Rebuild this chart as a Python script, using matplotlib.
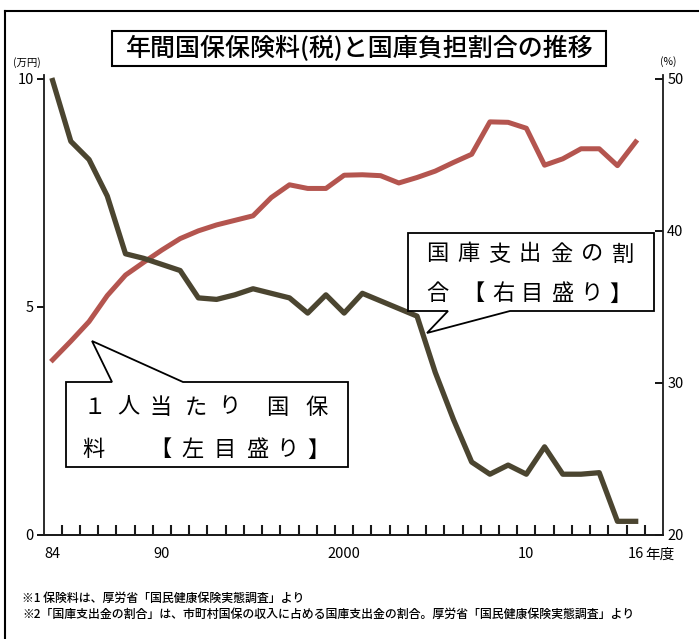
import matplotlib
matplotlib.use("Agg")
import matplotlib.pyplot as plt
from matplotlib.patches import Polygon, Rectangle
from matplotlib.lines import Line2D

plt.rcParams['font.family'] = ['Noto Sans CJK JP', 'DejaVu Sans']

# data
years = list(range(1984, 2017))
premium = [3.84, 4.25, 4.68, 5.25, 5.7, 5.98, 6.25, 6.5, 6.67, 6.8, 6.9, 7.0, 7.4,
           7.68, 7.6, 7.6, 7.89, 7.9, 7.88, 7.72, 7.84, 7.98, 8.17, 8.35, 9.06,
           9.05, 8.92, 8.11, 8.25, 8.47, 8.47, 8.1, 8.62]          # 万円, left axis
share = [49.9, 45.9, 44.7, 42.3, 38.5, 38.2, 37.8, 37.4, 35.6, 35.5, 35.8, 36.2,
         35.9, 35.6, 34.6, 35.8, 34.6, 35.9, 35.4, 34.9, 34.4, 30.7, 27.6, 24.8,
         24.0, 24.6, 24.0, 25.8, 24.0, 24.0, 24.1, 20.9, 20.9]    # %, right axis
xtick_pos = [1984, 1990, 2000, 2010, 2016]
xtick_lab = ["84", "90", "2000", "10", "16"]
left_ticks = [0, 5, 10]
right_ticks = [20, 30, 40, 50]

W, H = 699, 639
fig = plt.figure(figsize=(W / 100, H / 100), dpi=100)
fig.patch.set_facecolor('white')


def px(x, y):
    return (x / W, 1 - y / H)


# plot area in pixels
L, R, T, B = 43.5, 663, 75, 535
ax = fig.add_axes([L / W, 1 - B / H, (R - L) / W, (B - T) / H])
ax2 = ax.twinx()

red = '#b4554f'
dark = '#4b4530'
ax.plot(years, premium, color=red, lw=3.6, zorder=3)
ax2.plot(years, share, color=dark, lw=3.8, zorder=3)

ax.set_xlim(1983.5, 2017.5)
ax.set_ylim(0, 10 + 4 / 45.6)
ax2.set_ylim(20, 50 + 4 / 15.2)

for a in (ax, ax2):
    a.spines['top'].set_visible(False)
    for s in a.spines.values():
        s.set_linewidth(1.3)
        s.set_color('#1a1a1a')
ax.spines['right'].set_visible(False)
ax2.spines['left'].set_visible(False)

# year labels at year centres, small inward marks at year boundaries
ax.set_xticks(xtick_pos)
ax.set_xticklabels(xtick_lab)
ax.tick_params(axis='x', length=0, pad=9, labelsize=10.5)
bounds = [y + 0.5 for y in years]
ax.plot(bounds, [0] * len(bounds), ls='none', marker=2, ms=7, mew=1.5,
        color='#1a1a1a', clip_on=False, zorder=4)

ax.set_yticks(left_ticks)
ax.tick_params(axis='y', direction='out', length=5, width=1.3, pad=2, labelsize=10.5)
ax2.set_yticks(right_ticks)
ax2.tick_params(axis='y', direction='in', length=6, width=1.3, pad=3, labelsize=10.5)

fig.text(*px(645, 555), "年度", fontsize=10.5, ha='left', va='center')
fig.text(*px(27, 63), "(万円)", fontsize=7.5, ha='center', va='center')
fig.text(*px(668, 62), "(%)", fontsize=7.5, ha='center', va='center')

# title box
x0, y0 = px(112, 66)
fig.patches.append(Rectangle((x0, y0), (606 - 112) / W, (66 - 31) / H,
                             transform=fig.transFigure, fill=False,
                             edgecolor='black', lw=1.5))
fig.text(*px(360, 49), "年間国保保険料(税)と国庫負担割合の推移", fontsize=18,
         fontweight='medium', ha='center', va='center')

# callouts
box1 = [(66, 382), (112, 382), (92, 341), (183, 382), (348, 382), (348, 467), (66, 467)]
box2 = [(408, 233), (654, 233), (654, 311), (510, 311), (427, 333), (448, 311), (408, 311)]
for pts in (box1, box2):
    fig.patches.append(Polygon([px(x, y) for x, y in pts], closed=True,
                               transform=fig.transFigure, facecolor='white',
                               edgecolor='black', lw=1.3, zorder=5))

lines1 = [("１人当たり国保", [95, 128, 161, 196, 229, 277, 317], 407),
          ("料【左目盛り】", [93, 160, 193, 225, 257, 287, 318], 450)]
lines2 = [("国庫支出金の割", [437, 468, 499, 530, 561, 592, 623], 254),
          ("合【右目盛り】", [437, 473, 503, 532, 562, 591, 620], 294)]
for text, xs, yy in lines1 + lines2:
    for ch, xx in zip(text, xs):
        fig.text(*px(xx, yy), ch, fontsize=16, ha='center', va='center', zorder=6)

# footnotes
fig.text(*px(22, 598), "※1 保険料は、厚労省「国民健康保険実態調査」より",
         fontsize=8.6, fontweight='medium', ha='left', va='center')
fig.text(*px(22, 614), "※2「国庫支出金の割合」は、市町村国保の収入に占める国庫支出金の割合。厚労省「国民健康保険実態調査」より",
         fontsize=8.6, fontweight='medium', ha='left', va='center')

# page frame
fig.lines.append(Line2D([5 / W, 5 / W], [0, 1 - 11 / H], transform=fig.transFigure,
                        color='black', lw=1.5))
fig.lines.append(Line2D([5 / W, 1], [1 - 11 / H, 1 - 11 / H], transform=fig.transFigure,
                        color='black', lw=1.5))

fig.savefig("out.png", dpi=100)
